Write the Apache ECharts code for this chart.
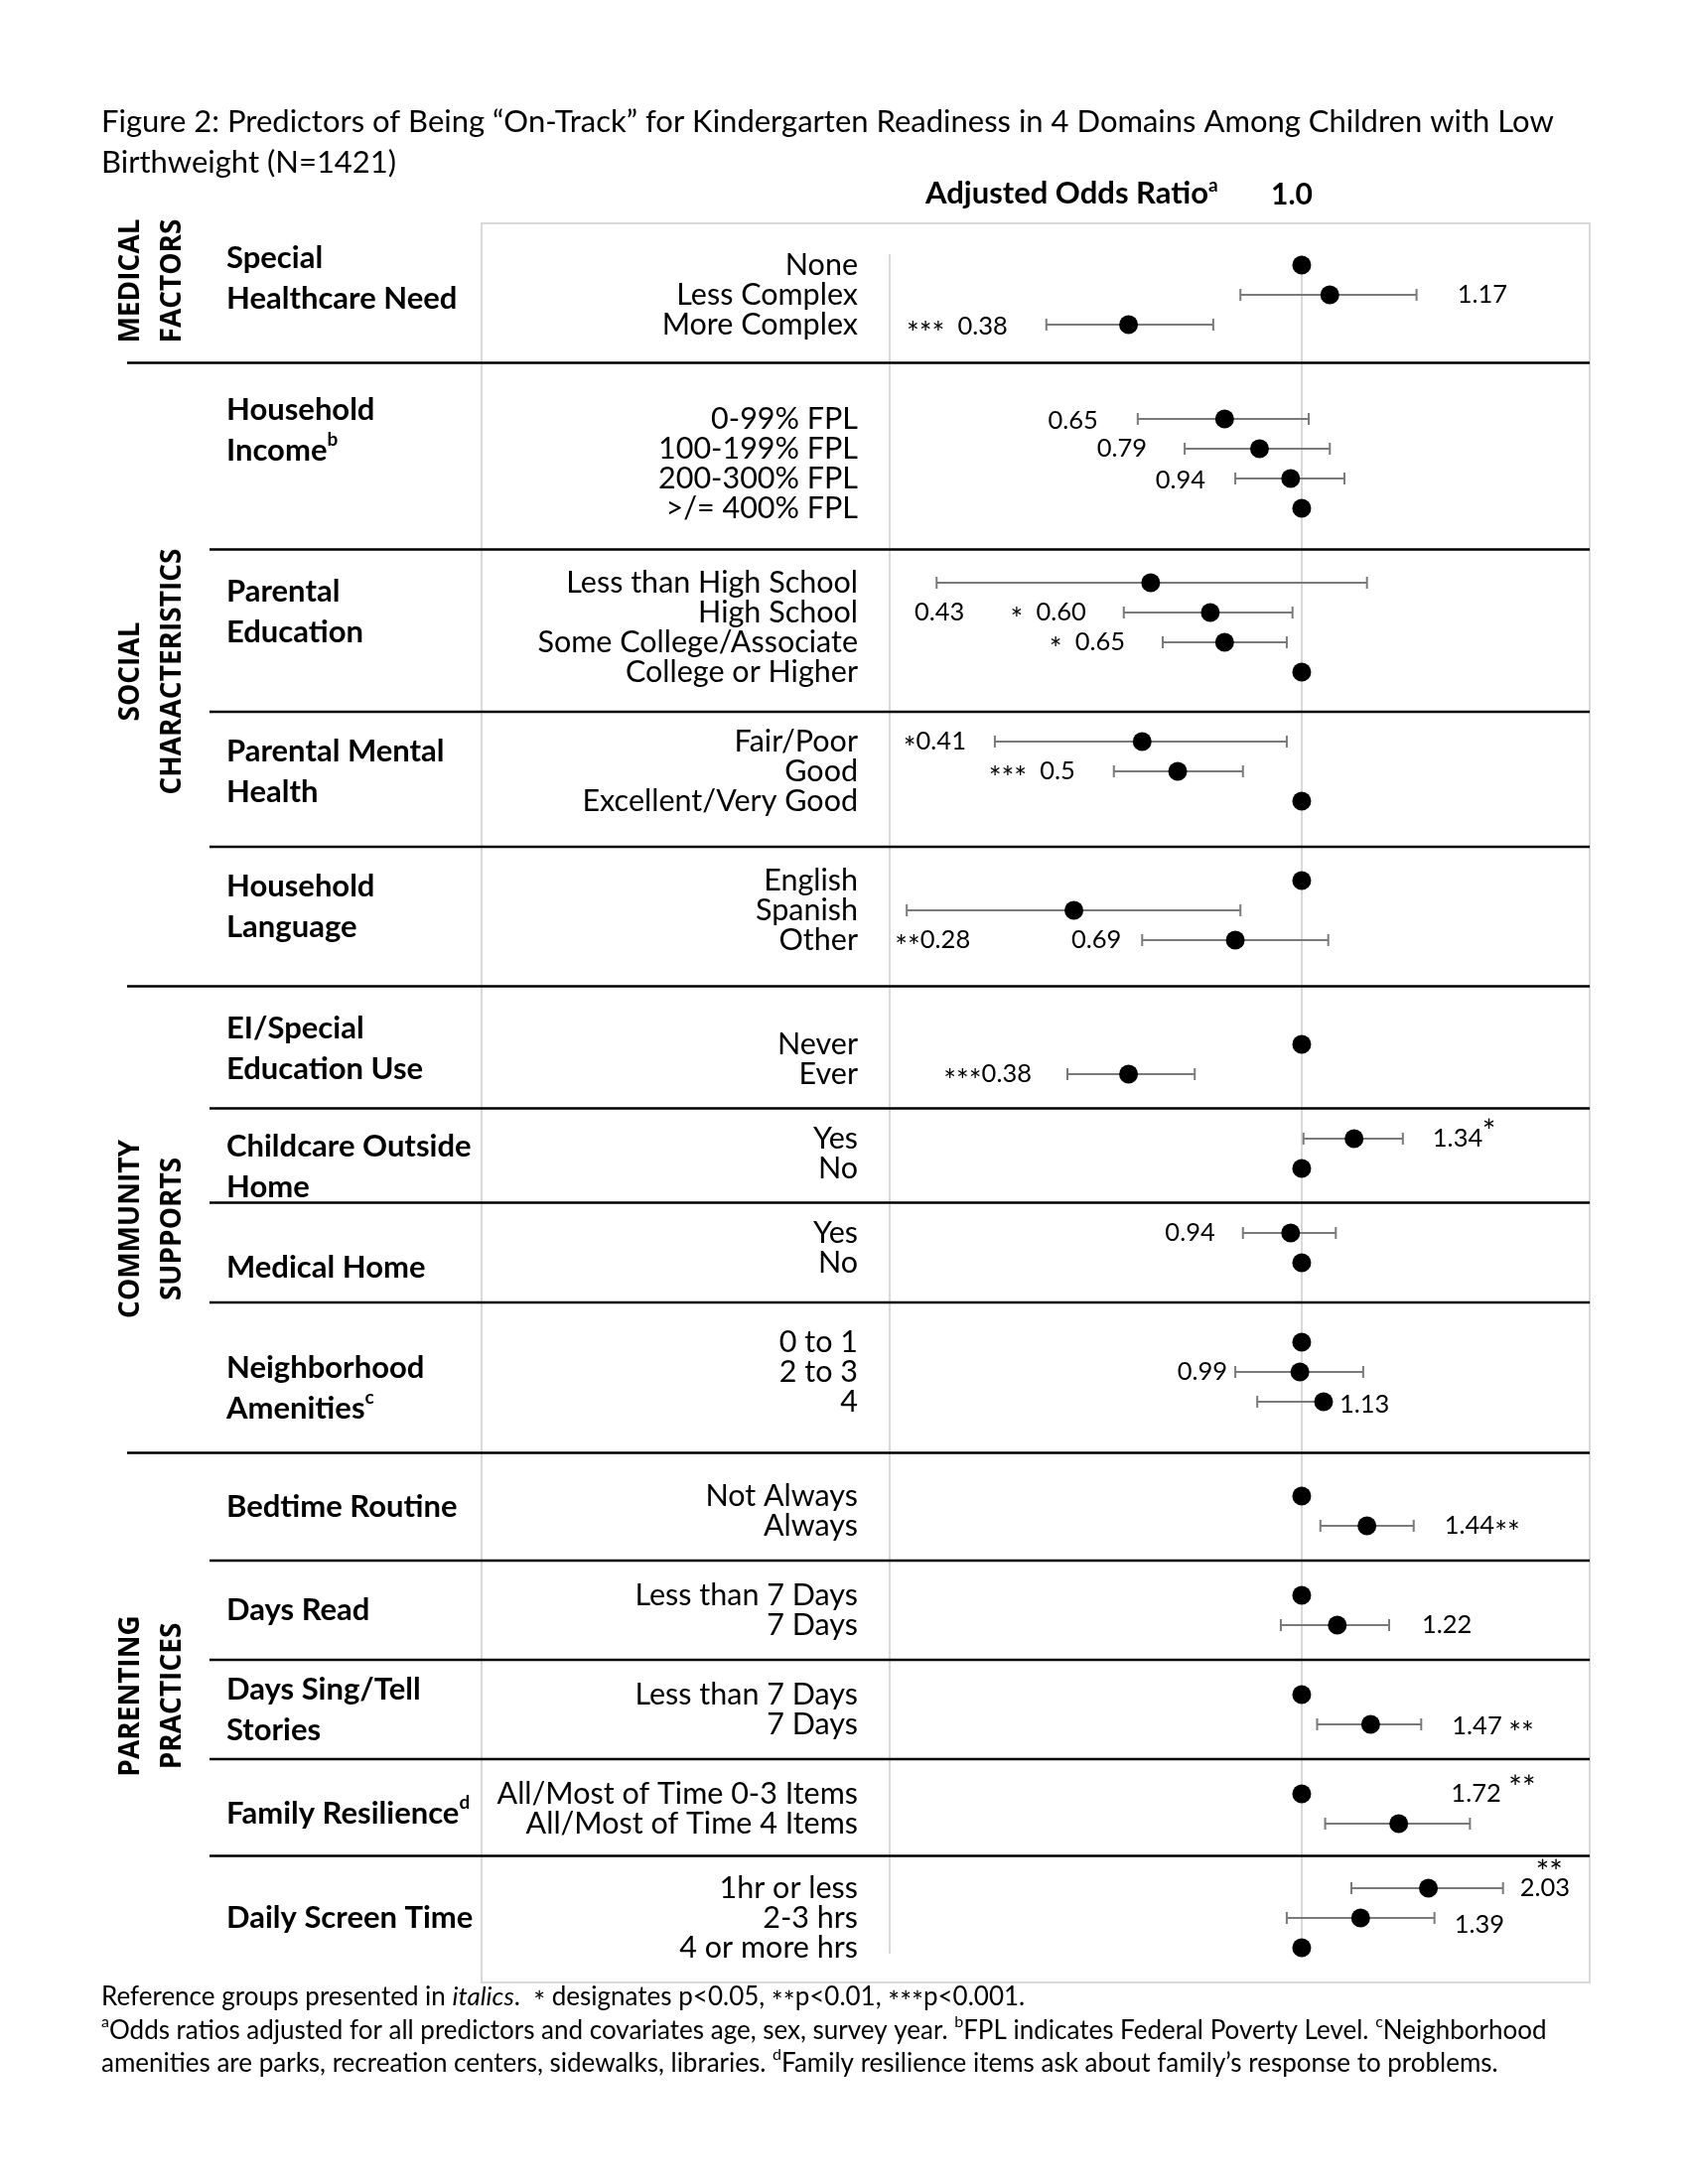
<!DOCTYPE html>
<html><head><meta charset="utf-8">
<script src="https://cdn.jsdelivr.net/npm/echarts@6/dist/echarts.min.js"></script>
<style>html,body{margin:0;padding:0;background:#fff}#c{width:1700px;height:2200px}</style>
</head><body><div id="c"></div>
<script>
// ---------------- DATA ----------------
const titleLines = ['Figure 2: Predictors of Being \u201cOn-Track\u201d for Kindergarten Readiness in 4 Domains Among Children with Low', 'Birthweight (N=1421)'];
const headerText = 'Adjusted Odds Ratio{sup|a}';
const domainNames = ['MEDICAL\nFACTORS', 'SOCIAL\nCHARACTERISTICS', 'COMMUNITY\nSUPPORTS', 'PARENTING\nPRACTICES'];
const groupNames = ['Special\nHealthcare Need', 'Household\nIncome{sup|b}', 'Parental\nEducation', 'Parental Mental\nHealth', 'Household\nLanguage',
  'EI/Special\nEducation Use', 'Childcare Outside\nHome', 'Medical Home', 'Neighborhood\nAmenities{sup|c}',
  'Bedtime Routine', 'Days Read', 'Days Sing/Tell\nStories', 'Family Resilience{sup|d}', 'Daily Screen Time'];
const groupDomain = [0, 1, 1, 1, 1, 2, 2, 2, 2, 3, 3, 3, 3, 3];
const groupRowCounts = [3, 4, 4, 3, 3, 2, 2, 2, 3, 2, 2, 2, 2, 3];
const rowLabels = ['None', 'Less Complex', 'More Complex',
  '0-99% FPL', '100-199% FPL', '200-300% FPL', '>/= 400% FPL',
  'Less than High School', 'High School', 'Some College/Associate', 'College or Higher',
  'Fair/Poor', 'Good', 'Excellent/Very Good',
  'English', 'Spanish', 'Other',
  'Never', 'Ever',
  'Yes', 'No',
  'Yes', 'No',
  '0 to 1', '2 to 3', '4',
  'Not Always', 'Always',
  'Less than 7 Days', '7 Days',
  'Less than 7 Days', '7 Days',
  'All/Most of Time 0-3 Items', 'All/Most of Time 4 Items',
  '1hr or less', '2-3 hrs', '4 or more hrs'];
const oddsRatio = [1.0, 1.17, 0.38, 0.65, 0.79, 0.94, 1.0, 0.43, 0.60, 0.65, 1.0, 0.41, 0.50, 1.0, 1.0, 0.28, 0.69, 1.0, 0.38,
  1.34, 1.0, 0.94, 1.0, 1.0, 0.99, 1.13, 1.0, 1.44, 1.0, 1.22, 1.0, 1.47, 1.0, 1.72, 2.03, 1.39, 1.0];
const ciLower = [null, 0.71, 0.24, 0.40, 0.52, 0.69, null, 0.13, 0.37, 0.46, null, 0.18, 0.35, null, null, 0.11, 0.41, null, 0.27,
  1.01, null, 0.72, null, null, 0.69, 0.78, null, 1.11, null, 0.89, null, 1.09, null, 1.14, 1.32, 0.92, null];
const ciUpper = [null, 1.90, 0.61, 1.04, 1.17, 1.27, null, 1.44, 0.95, 0.92, null, 0.92, 0.72, null, null, 0.71, 1.16, null, 0.55,
  1.76, null, 1.21, null, null, 1.41, 1.13, null, 1.87, null, 1.63, null, 1.95, null, 2.56, 3.08, 2.10, null];
const annotText = ['', '1.17', '***  0.38', '0.65', '0.79', '0.94', '', '0.43', '*  0.60', '*  0.65', '', '*0.41', '***  0.5', '', '',
  '**0.28', '0.69', '', '***0.38', '1.34', '', '0.94', '', '', '0.99', '1.13', '', '1.44**', '', '1.22', '', '1.47 **', '', '1.72', '2.03', '1.39', ''];
const annotSupText = {19: '*', 33: '**', 34: '**'};
const footnoteLines = [
  'Reference groups presented in {i|italics}.  {ast|*} designates p<0.05, {ast|**}p<0.01, {ast|***}p<0.001.',
  '{sup|a}Odds ratios adjusted for all predictors and covariates age, sex, survey year. {sup|b}FPL indicates Federal Poverty Level. {sup|c}Neighborhood',
  'amenities are parks, recreation centers, sidewalks, libraries. {sup|d}Family resilience items ask about family\u2019s response to problems.'
];

// ---------------- LAYOUT ----------------
const FONT = 'Lato';
const SLOT_COUNT = 343;           // fine vertical grid of the category axis
const ROW_STEP = 6;               // slots between rows inside one group
const groupStartSlot = [2, 33, 66, 98, 126, 159, 178, 197, 219, 250, 270, 290, 310, 329];
const groupLabelShift = [-17, -34, -16, 0, -4, -11, 13, 20, 16, -4, 0, 0, 5, 0];
const separatorShift = [-9, 4, 5, 6, -6, 2, 2, 0, 4, 0, 0, 0, 0];
const domainLabelShift = [-14, -8, 6, -26];
const annotSide = ['', 'R', 'L', 'L', 'L', 'L', '', 'L', 'L', 'L', '', 'L', 'L', '', '', 'L', 'L', '', 'L', 'R', '', 'L', '', '', 'L', 'R', '', 'R', '', 'R', '', 'R', '', 'R', 'R', 'R', ''];
const annotGap = [0, 41, 39, 40, 38, 30, 0, -28, 38, 38, 0, 29, 39, 0, 0, -64, 21, 0, 36, 30, 0, 28, 0, 0, 8, 16, 0, 31, 0, 33, 0, 31, 0, -19, 17, 20, 0];
const annotRowShift = {7: 1, 15: 1, 33: -1};
const annotDy = {2: 2, 3: 2, 5: 2, 25: 3, 31: 2, 35: 7};
const annotSupPos = {19: [50, -11], 33: [58, -10], 34: [16, -20]};
const GRID = {left: 896, right: 99, top: 257, bottom: 233};
const ANNOT_SIZE = 25.5;
const astRich = {ast: {fontSize: 30, fontFamily: FONT, lineHeight: 16, padding: [14, 0, 0, 0]}};

// ---------------- BUILD ----------------
const slotNames = Array.from({length: SLOT_COUNT}, (_, i) => 's' + i);
const slotLabel = new Array(SLOT_COUNT).fill('');
const rowSlot = [], rowGroup = [];
{
  let r = 0;
  groupRowCounts.forEach((n, g) => {
    for (let k = 0; k < n; k++) {
      rowSlot.push(groupStartSlot[g] + k * ROW_STEP);
      rowGroup.push(g);
      slotLabel[rowSlot[r]] = rowLabels[r];
      r++;
    }
  });
}
const groupFirstRow = [], groupLastRow = [];
rowGroup.forEach((g, r) => { if (groupFirstRow[g] === undefined) groupFirstRow[g] = r; groupLastRow[g] = r; });

const forestData = oddsRatio.map((v, i) => [v, rowSlot[i]]);
const withAst = s => s.replace(/\*+/g, m => '{ast|' + m + '}');

const chart = echarts.init(document.getElementById('c'), null, {renderer: 'canvas'});

function renderForest(params, api) {
  const i = params.dataIndex;
  const p = api.coord([oddsRatio[i], rowSlot[i]]);
  const y = p[1];
  const children = [];
  const gray = '#7a7a7a';
  let xLo = null, xHi = null;
  if (ciLower[i] != null) {
    xLo = api.coord([ciLower[i], rowSlot[i]])[0];
    xHi = api.coord([ciUpper[i], rowSlot[i]])[0];
    children.push({type: 'line', shape: {x1: xLo, y1: y, x2: xHi, y2: y}, style: {stroke: gray, lineWidth: 2}});
    children.push({type: 'line', shape: {x1: xLo, y1: y - 6, x2: xLo, y2: y + 6}, style: {stroke: gray, lineWidth: 2}});
    children.push({type: 'line', shape: {x1: xHi, y1: y - 6, x2: xHi, y2: y + 6}, style: {stroke: gray, lineWidth: 2}});
  }
  children.push({type: 'circle', shape: {cx: p[0], cy: y, r: 9.5}, style: {fill: '#000'}});
  if (annotText[i]) {
    const rs = annotRowShift[i] || 0;
    let ty = y + (annotDy[i] || 0);
    if (rs) ty = api.coord([1, rowSlot[i + rs]])[1] + (annotDy[i] || 0);
    let tx, align;
    if (annotSide[i] === 'L') { tx = xLo - annotGap[i]; align = 'right'; }
    else { tx = (xHi != null ? xHi : p[0]) + annotGap[i]; align = 'left'; }
    children.push({type: 'text', x: tx, y: ty, style: {text: withAst(annotText[i]), fill: '#000', fontSize: ANNOT_SIZE, fontFamily: FONT,
      lineHeight: 30, align: align, verticalAlign: 'middle', rich: astRich}});
    if (annotSupText[i]) {
      const sp = annotSupPos[i];
      children.push({type: 'text', x: tx + sp[0], y: ty + sp[1] + 5, style: {text: annotSupText[i], fill: '#000', fontSize: 32,
        fontFamily: FONT, align: 'left', verticalAlign: 'middle'}});
    }
  }
  return {type: 'group', children: children};
}

chart.setOption({
  animation: false,
  backgroundColor: '#fff',
  grid: {left: GRID.left, right: GRID.right, top: GRID.top, bottom: GRID.bottom, containLabel: false},
  xAxis: {
    type: 'log', logBase: 10, min: 0.1, max: 5, position: 'top',
    axisLine: {show: false}, axisTick: {show: false}, splitLine: {show: false},
    axisLabel: {show: true, margin: 46, fontFamily: FONT, fontWeight: 'bold', fontSize: 30, color: '#000', padding: [0, 20, 0, 0],
      formatter: v => Math.abs(v - 1) < 1e-6 ? '1.0' : ''}
  },
  yAxis: {
    type: 'category', data: slotNames, inverse: true, boundaryGap: false,
    axisLine: {show: true, onZero: false, lineStyle: {color: '#d9d9d9', width: 2}},
    axisTick: {show: false}, splitLine: {show: false},
    axisLabel: {interval: 0, margin: 32, fontFamily: FONT, fontSize: 30.5, color: '#000', padding: [0, 0, 14, 0],
      formatter: (v, idx) => slotLabel[idx]}
  },
  series: [
    {type: 'line', data: [], z: 1, silent: true,
      markLine: {silent: true, symbol: ['none', 'none'], label: {show: false}, animation: false,
        lineStyle: {color: '#d9d9d9', width: 2, type: 'solid'}, data: [{xAxis: 1}]}},
    {type: 'custom', data: forestData, encode: {x: 0, y: 1}, renderItem: renderForest, z: 5, clip: false, silent: true}
  ]
});

// decorations positioned from the category axis
const yOf = s => chart.convertToPixel({yAxisIndex: 0}, s);
const graphics = [];
graphics.push({type: 'rect', shape: {x: 485, y: 225, width: 1116, height: 1772}, style: {fill: 'none', stroke: '#d9d9d9', lineWidth: 2}, z: 0});
graphics.push({type: 'text', x: 102, y: 102, z: 20, style: {text: titleLines.join('\n'), fontFamily: FONT, fontSize: 31, lineHeight: 41, fill: '#000', align: 'left', verticalAlign: 'top'}});
graphics.push({type: 'text', x: 932, y: 195, z: 20, style: {text: headerText, fontFamily: FONT, fontSize: 31, fontWeight: 'bold', fill: '#000',
  lineHeight: 36, align: 'left', verticalAlign: 'middle',
  rich: {sup: {fontSize: 19, fontWeight: 'bold', fontFamily: FONT, verticalAlign: 'top', lineHeight: 22}}}});
// separators
for (let g = 0; g < groupStartSlot.length - 1; g++) {
  const a = rowSlot[groupLastRow[g]], b = rowSlot[groupFirstRow[g + 1]];
  const y = (yOf(a) + yOf(b)) / 2 + separatorShift[g];
  const x1 = groupDomain[g] !== groupDomain[g + 1] ? 128 : 211;
  graphics.push({type: 'line', z: 15, shape: {x1: x1, y1: y, x2: 1601, y2: y}, style: {stroke: '#000', lineWidth: 2.5}});
}
// group labels
groupNames.forEach((name, g) => {
  const yc = (yOf(rowSlot[groupFirstRow[g]]) + yOf(rowSlot[groupLastRow[g]])) / 2 + groupLabelShift[g];
  graphics.push({type: 'text', x: 228, y: yc, z: 20, style: {text: name, fontFamily: FONT, fontSize: 31, fontWeight: 'bold', lineHeight: 41,
    fill: '#000', align: 'left', verticalAlign: 'middle',
    rich: {sup: {fontSize: 19, fontWeight: 'bold', fontFamily: FONT, verticalAlign: 'top', lineHeight: 22}}}});
});
// domain labels
domainNames.forEach((name, d) => {
  const rows = rowGroup.map((g, r) => groupDomain[g] === d ? r : -1).filter(r => r >= 0);
  const yc = (yOf(rowSlot[rows[0]]) + yOf(rowSlot[rows[rows.length - 1]])) / 2 + domainLabelShift[d];
  graphics.push({type: 'text', x: 153, y: yc, rotation: Math.PI / 2, z: 20, style: {text: name, fontFamily: 'Open Sans', fontSize: 28,
    fontWeight: 'bold', lineHeight: 42, fill: '#000', align: 'center', verticalAlign: 'middle'}});
});
// footnotes
graphics.push({type: 'text', x: 102, y: 1995, z: 20, style: {text: footnoteLines.join('\n'), fontFamily: FONT, fontSize: 26, lineHeight: 33.5, fill: '#000',
  align: 'left', verticalAlign: 'top',
  rich: {i: {fontStyle: 'italic', fontFamily: FONT, fontSize: 26, lineHeight: 33.5},
    sup: {fontSize: 16, fontFamily: FONT, verticalAlign: 'top', lineHeight: 17},
    ast: {fontSize: 28, fontFamily: FONT, lineHeight: 18, padding: [12, 0, 0, 0]}}}});
chart.setOption({graphic: graphics});
</script>
</body></html>
